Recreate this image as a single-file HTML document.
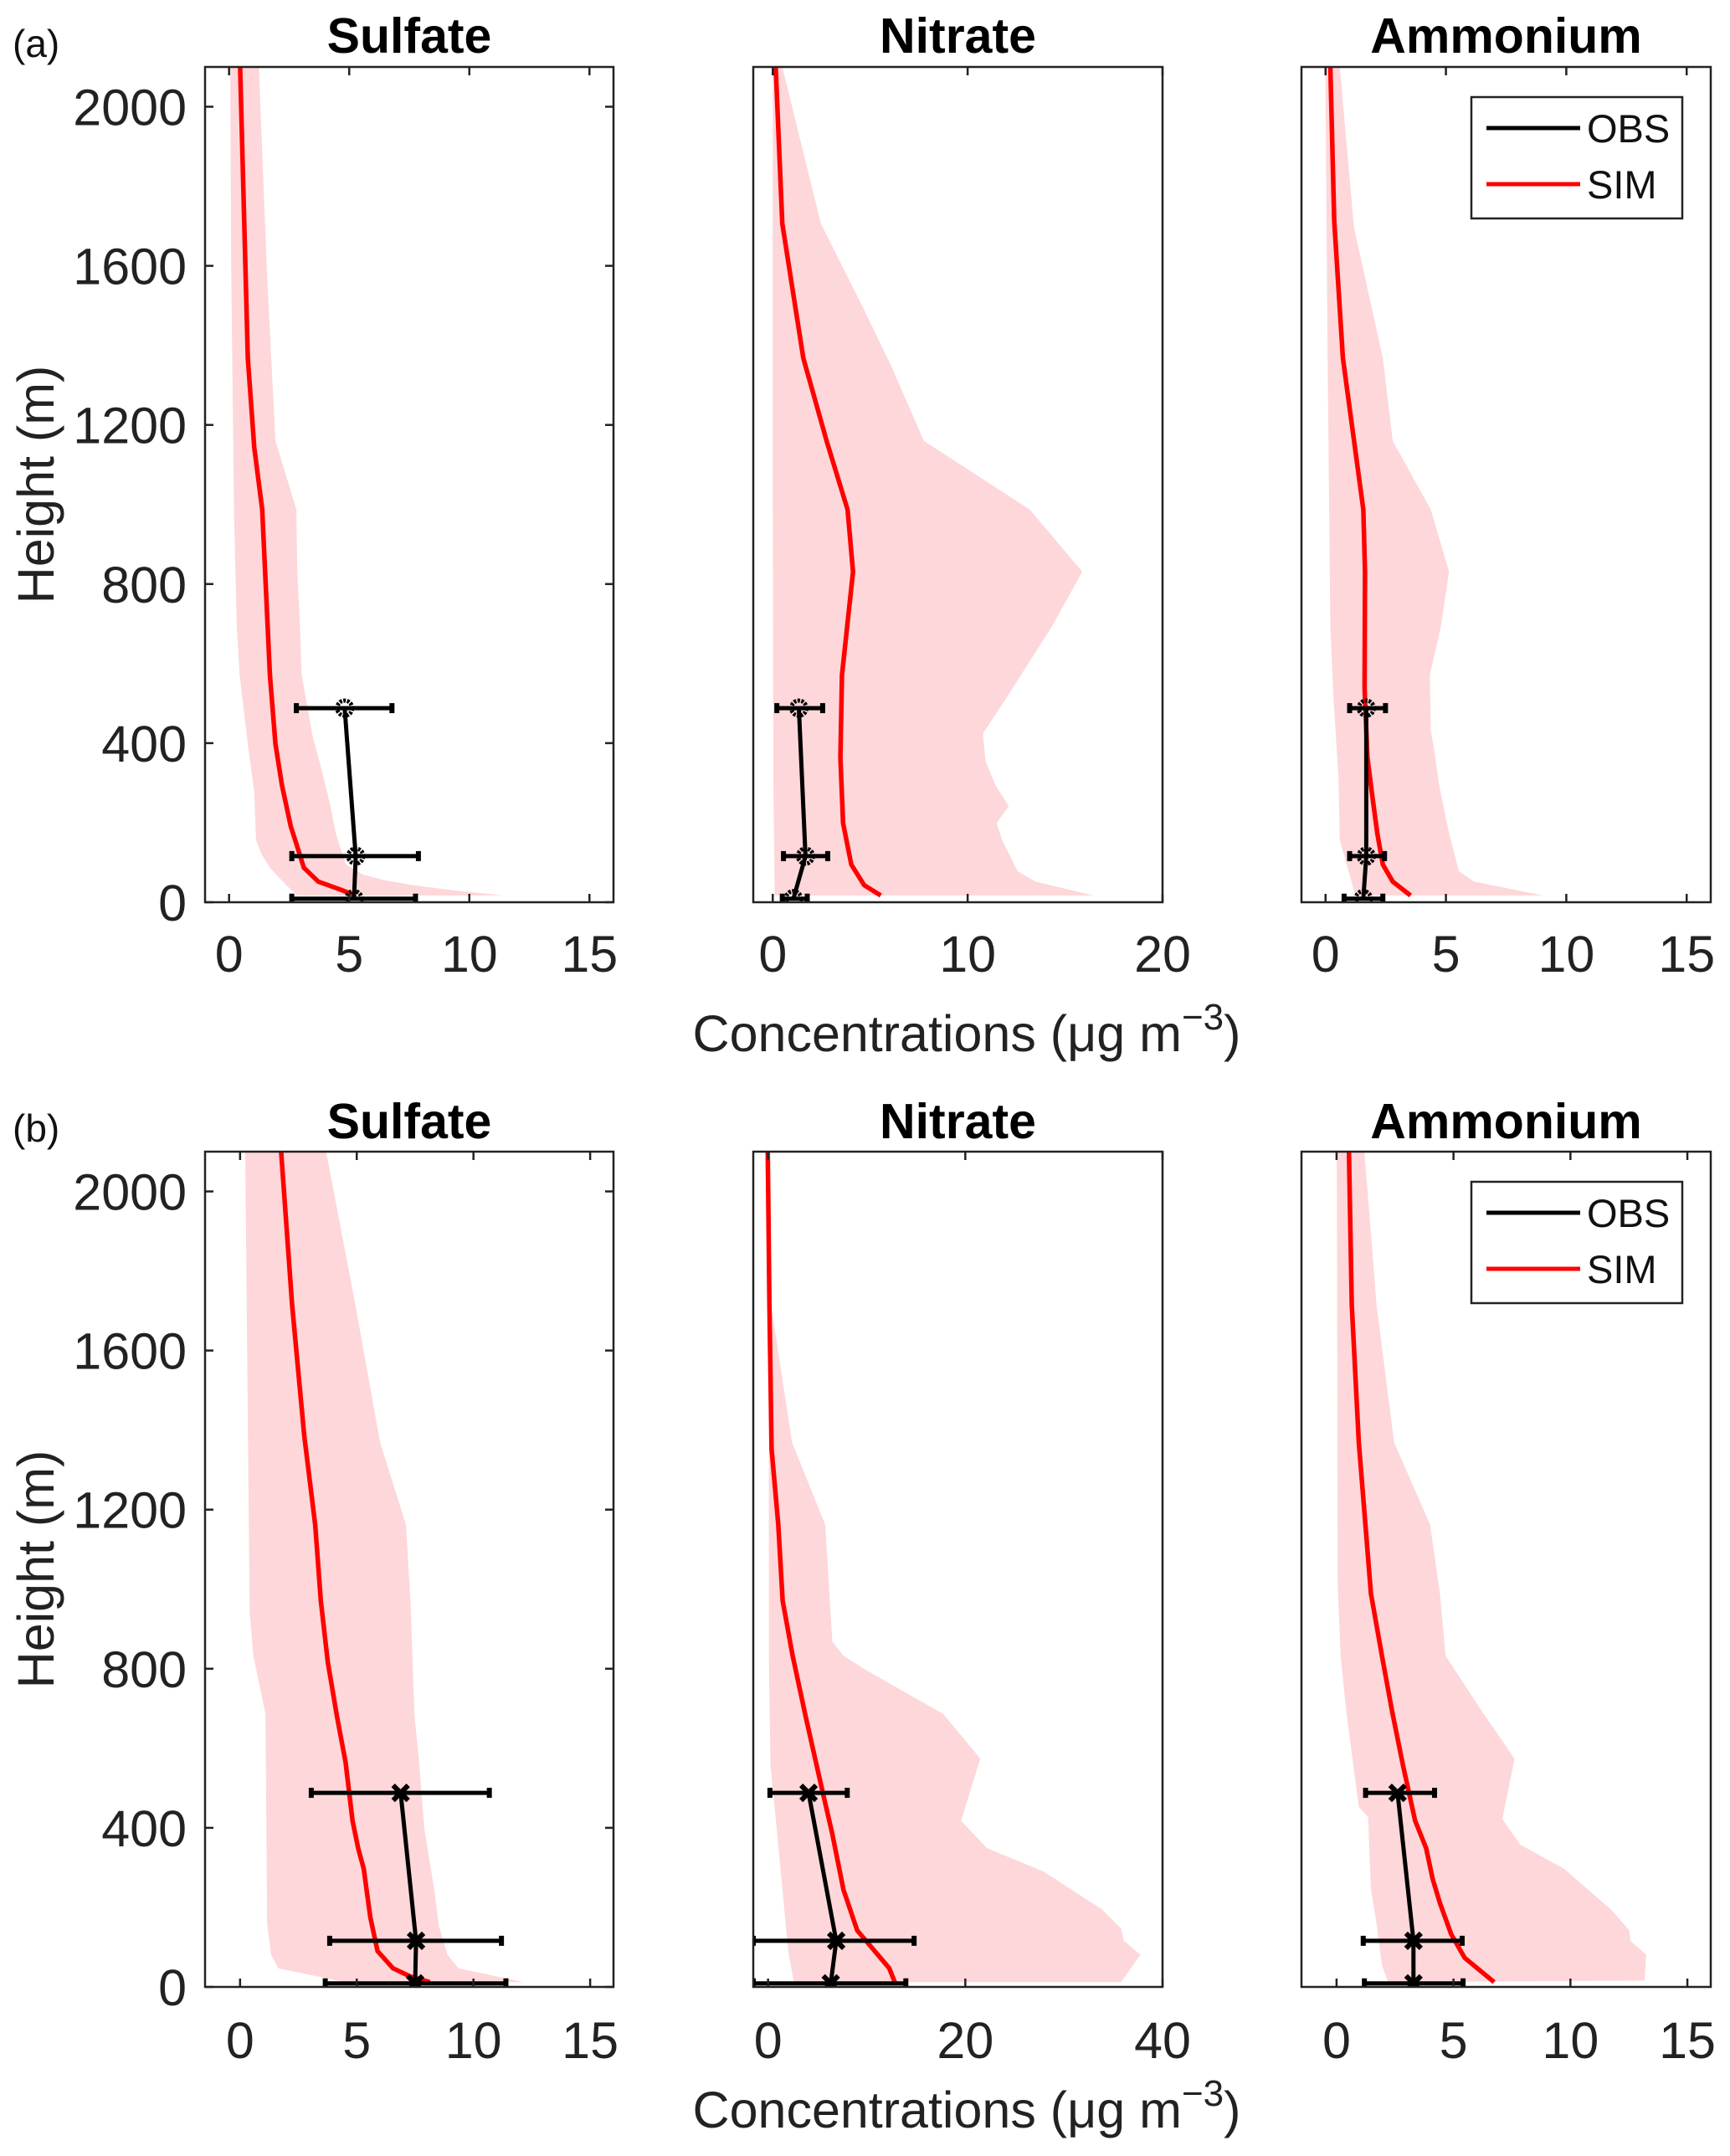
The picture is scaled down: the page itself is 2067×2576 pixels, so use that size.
<!DOCTYPE html>
<html><head><meta charset="utf-8"><style>
html,body{margin:0;padding:0;background:#fff;}
svg{display:block;font-family:"Liberation Sans",Arial,sans-serif;}
</style></head><body>
<svg id="fig" width="2067" height="2576" viewBox="0 0 2067 2576" xmlns="http://www.w3.org/2000/svg"></svg>
<script>
// ---------- DATA (concentrations in µg m-3, heights in m) ----------
const yTicks = [0, 400, 800, 1200, 1600, 2000];
const xTicksA = [[0,5,10,15],[0,10,20],[0,5,10,15]];
const xTicksB = [[0,5,10,15],[0,20,40],[0,5,10,15]];
const speciesNames = ["Sulfate","Nitrate","Ammonium"];
const obsHeights = [488, 116, 9];

// (a) Sulfate
const aSO4simH = [2100,1368,1143,987,571,398,294,190,147,87,52,31,17];
const aSO4simX = [0.46,0.78,1.05,1.38,1.70,1.93,2.20,2.57,2.80,3.11,3.71,4.67,5.25];
const aSO4loH = [2100,1576,970,693,571,398,277,156,121,87,43,17];
const aSO4loX = [0.05,0.09,0.21,0.32,0.44,0.78,1.05,1.12,1.35,1.70,2.38,2.84];
const aSO4hiH = [2100,1576,1160,987,831,693,571,416,346,242,173,95,69,55,43,29,17];
const aSO4hiX = [1.24,1.58,1.93,2.80,2.84,2.95,3.02,3.48,3.80,4.22,4.44,4.86,5.59,6.50,7.65,9.48,11.43];
const aSO4obs = [4.81,5.27,5.20];
const aSO4obsLo = [2.80,2.61,2.61];
const aSO4obsHi = [6.78,7.88,7.76];
// (a) Nitrate
const aNO3simH = [2100,1706,1368,1160,987,831,571,364,199,95,43,17];
const aNO3simX = [0.15,0.49,1.57,2.76,3.84,4.12,3.55,3.47,3.61,4.03,4.69,5.54];
const aNO3loH = [2100,1000,300,17];
const aNO3loX = [0.0,0.0,0.03,0.1];
const aNO3hiH = [2100,1706,1489,1351,1160,987,831,693,519,424,355,294,242,199,156,78,52,17];
const aNO3hiX = [0.49,2.47,4.69,6.05,7.75,13.19,15.88,14.32,12.06,10.78,10.92,11.43,12.11,11.49,11.77,12.56,13.47,16.45];
const aNO3obs = [1.34,1.68,1.06];
const aNO3obsLo = [0.21,0.55,0.49];
const aNO3obsHi = [2.56,2.82,1.77];
// (a) Ammonium
const aNH4simH = [2100,1714,1368,987,831,537,364,277,173,95,52,17];
const aNH4simX = [0.20,0.36,0.72,1.57,1.64,1.62,1.74,1.92,2.15,2.38,2.79,3.53];
const aNH4loH = [2100,1400,693,537,416,312,156,69,17];
const aNH4loX = [-0.01,0.08,0.20,0.31,0.43,0.54,0.59,1.00,1.23];
const aNH4hiH = [2100,1697,1368,1160,987,831,693,571,433,364,294,173,78,52,17];
const aNH4hiX = [0.59,1.18,2.38,2.79,4.37,5.13,4.79,4.33,4.37,4.56,4.72,5.13,5.54,6.16,9.03];
const aNH4obs = [1.69,1.69,1.57];
const aNH4obsLo = [1.00,1.00,0.77];
const aNH4obsHi = [2.49,2.45,2.38];

// (b) Sulfate
const bSO4simH = [2100,1715,1386,1162,971,816,678,565,418,349,297,176,90,47,26,12];
const bSO4simX = [1.76,2.23,2.75,3.22,3.46,3.76,4.16,4.52,4.82,5.06,5.30,5.58,5.89,6.55,7.30,8.13];
const bSO4loH = [2100,1376,944,833,686,159,81,47,12];
const bSO4loX = [0.22,0.34,0.41,0.57,1.09,1.16,1.33,1.64,4.5];
const bSO4hiH = [2100,1715,1369,1162,971,686,574,401,245,150,81,47,12];
const bSO4hiX = [3.69,4.94,6.00,7.11,7.30,7.47,7.66,7.89,8.32,8.53,8.89,9.36,12.14];
const bSO4obs = [6.88,7.54,7.50];
const bSO4obsLo = [3.05,3.84,3.65];
const bSO4obsHi = [10.68,11.20,11.39];
// (b) Nitrate
const bNO3simH = [2100,1715,1352,1162,971,833,678,505,384,245,142,47,12];
const bNO3simX = [-0.03,0.14,0.36,1.04,1.48,2.49,3.83,5.40,6.52,7.64,9.04,12.29,12.85];
const bNO3loH = [1706,833,556,384,90,12];
const bNO3loX = [0.08,0.08,0.25,0.93,2.05,2.61];
const bNO3hiH = [1706,1369,1162,868,833,799,686,574,418,349,290,195,147,116,81,12];
const bNO3hiX = [0.36,2.43,5.80,6.52,7.64,9.77,17.77,21.52,19.57,22.19,27.96,33.84,35.79,36.07,37.76,35.79];
const bNO3obs = [4.11,6.91,6.36];
const bNO3obsLo = [0.19,-1.5,-1.5];
const bNO3obsHi = [8.03,14.81,13.97];
// (b) Ammonium
const bNH4simH = [2100,1715,1369,989,833,695,557,418,349,271,211,133,73,12];
const bNH4simX = [0.53,0.65,0.95,1.47,1.94,2.37,2.84,3.36,3.83,4.11,4.42,4.90,5.48,6.74];
const bNH4loH = [2100,1012,833,695,453,427,245,159,55,12];
const bNH4loX = [0.01,0.05,0.17,0.41,0.95,1.35,1.47,1.71,1.94,2.2];
const bNH4hiH = [2100,1715,1369,1162,989,833,695,574,422,358,297,194,142,116,81,16];
const bNH4hiX = [1.19,1.71,2.46,4.00,4.42,4.66,6.19,7.61,7.09,7.85,9.73,11.74,12.52,12.56,13.24,13.17];
const bNH4obs = [2.61,3.29,3.29];
const bNH4obsLo = [1.24,1.14,1.19];
const bNH4obsHi = [4.19,5.37,5.41];

// ---------- LAYOUT ----------
const NS = "http://www.w3.org/2000/svg";
const svg = document.getElementById("fig");
function mk(tag, attrs, parent){
  const e = document.createElementNS(NS, tag);
  for (const k in attrs) e.setAttribute(k, attrs[k]);
  (parent||svg).appendChild(e);
  return e;
}
const cols = [[245,733],[900,1389],[1555,2044]];
const rows = [{top:80,bot:1078,label:"(a)",labelY:52,titleY:63,tickY:1161,xlabY:1256,xlims:[[-1,16],[-1,20],[-1,16]],ticks:xTicksA,marker:"circle",
  data:[
   {simH:aSO4simH,simX:aSO4simX,loH:aSO4loH,loX:aSO4loX,hiH:aSO4hiH,hiX:aSO4hiX,obs:aSO4obs,lo:aSO4obsLo,hi:aSO4obsHi},
   {simH:aNO3simH,simX:aNO3simX,loH:aNO3loH,loX:aNO3loX,hiH:aNO3hiH,hiX:aNO3hiX,obs:aNO3obs,lo:aNO3obsLo,hi:aNO3obsHi},
   {simH:aNH4simH,simX:aNH4simX,loH:aNH4loH,loX:aNH4loX,hiH:aNH4hiH,hiX:aNH4hiX,obs:aNH4obs,lo:aNH4obsLo,hi:aNH4obsHi}]},
 {top:1376,bot:2374,label:"(b)",labelY:1348,titleY:1360,tickY:2459,xlabY:2542,xlims:[[-1.5,16],[-1.5,40],[-1.5,16]],ticks:xTicksB,marker:"x",
  data:[
   {simH:bSO4simH,simX:bSO4simX,loH:bSO4loH,loX:bSO4loX,hiH:bSO4hiH,hiX:bSO4hiX,obs:bSO4obs,lo:bSO4obsLo,hi:bSO4obsHi},
   {simH:bNO3simH,simX:bNO3simX,loH:bNO3loH,loX:bNO3loX,hiH:bNO3hiH,hiX:bNO3hiX,obs:bNO3obs,lo:bNO3obsLo,hi:bNO3obsHi},
   {simH:bNH4simH,simX:bNH4simX,loH:bNH4loH,loX:bNH4loX,hiH:bNH4hiH,hiX:bNH4hiX,obs:bNH4obs,lo:bNH4obsLo,hi:bNH4obsHi}]}];

rows.forEach((r, ri) => {
  const panelTag = ri===0 ? "a" : "b";
  const lab = mk("text",{x:15,y:r.labelY+16,"font-size":46,fill:"#111"});
  lab.textContent = r.label;
  
  
  const yMap = h => r.bot - (h/2100)*(r.bot - r.top);
  cols.forEach((c, ci) => {
    const [x0,x1] = c, [lo,hi] = r.xlims[ci];
    const xMap = v => x0 + (v - lo)/(hi - lo)*(x1 - x0);
    const d = r.data[ci];
    const sp = speciesNames[ci].toLowerCase();
    const g = mk("g",{});
    
    
    const clipId = "clip"+ri+ci;
    const cp = mk("clipPath",{id:clipId}, g);
    mk("rect",{x:x0,y:r.top,width:x1-x0,height:r.bot-r.top}, cp);
    const pg = mk("g",{"clip-path":"url(#"+clipId+")"}, g);
    // shaded range
    let pts = [];
    d.hiH.forEach((h,i)=>pts.push(xMap(d.hiX[i]).toFixed(1)+","+yMap(h).toFixed(1)));
    for (let i=d.loH.length-1;i>=0;i--) pts.push(xMap(d.loX[i]).toFixed(1)+","+yMap(d.loH[i]).toFixed(1));
    const shade = mk("polygon",{points:pts.join(" "),fill:"#fdd7d9",stroke:"none"}, pg);
    
    
    // sim line
    const sl = mk("polyline",{points:d.simH.map((h,i)=>xMap(d.simX[i]).toFixed(1)+","+yMap(h).toFixed(1)).join(" "),fill:"none",stroke:"#ff0000","stroke-width":5.5,"stroke-linejoin":"round"}, pg);
    
    
    // obs error bars
    obsHeights.forEach((h,i)=>{
      const y = yMap(h);
      const eb = mk("g",{}, pg);
      
      
      mk("line",{x1:xMap(d.lo[i]),x2:xMap(d.hi[i]),y1:y,y2:y,stroke:"#000","stroke-width":5}, eb);
      mk("line",{x1:xMap(d.lo[i]),x2:xMap(d.lo[i]),y1:y-6,y2:y+6,stroke:"#000","stroke-width":6}, eb);
      mk("line",{x1:xMap(d.hi[i]),x2:xMap(d.hi[i]),y1:y-6,y2:y+6,stroke:"#000","stroke-width":6}, eb);
    });
    const ol = mk("polyline",{points:obsHeights.map((h,i)=>xMap(d.obs[i]).toFixed(1)+","+yMap(h).toFixed(1)).join(" "),fill:"none",stroke:"#000","stroke-width":5}, pg);
    
    
    obsHeights.forEach((h,i)=>{
      const x = xMap(d.obs[i]), y = yMap(h);
      let m;
      if (r.marker==="circle"){
        m = mk("circle",{cx:x,cy:y,r:9,fill:"none",stroke:"#000","stroke-width":5,"stroke-dasharray":"3 1.5"}, pg);
      } else {
        m = mk("path",{d:`M${x-9},${y-9}L${x+9},${y+9}M${x-9},${y+9}L${x+9},${y-9}`,stroke:"#000","stroke-width":6}, pg);
      }
      
      
    });
    // axes box
    const box = mk("rect",{x:x0,y:r.top,width:x1-x0,height:r.bot-r.top,fill:"none",stroke:"#222","stroke-width":2.5}, g);
    
    
    // x ticks
    r.ticks[ci].forEach(t=>{
      const x = xMap(t);
      mk("line",{x1:x,x2:x,y1:r.bot,y2:r.bot-10,stroke:"#222","stroke-width":2.5}, g);
      mk("line",{x1:x,x2:x,y1:r.top,y2:r.top+10,stroke:"#222","stroke-width":2.5}, g);
      const tl = mk("text",{x:x,y:r.tickY,"font-size":61,"text-anchor":"middle",fill:"#222"}, g);
      tl.textContent = t;
      
      
    });
    // title
    const ti = mk("text",{x:(x0+x1)/2,y:r.titleY,"font-size":59,"font-weight":"bold","text-anchor":"middle",fill:"#000"}, g);
    ti.textContent = speciesNames[ci];
    
    
    if (ci===0){
      yTicks.forEach(t=>{
        const y = yMap(t);
        mk("line",{x1:x0,x2:x0+10,y1:y,y2:y,stroke:"#222","stroke-width":2.5}, g);
        mk("line",{x1:x1,x2:x1-10,y1:y,y2:y,stroke:"#222","stroke-width":2.5}, g);
        const yl = mk("text",{x:223,y:y+22,"font-size":61,"text-anchor":"end",fill:"#222"}, g);
        yl.textContent = t;
        
        
      });
      const cy = (r.top + r.bot)/2;
      const yt = mk("text",{x:0,y:0,"font-size":61,"text-anchor":"middle",fill:"#222",transform:`translate(64,${cy}) rotate(-90)`});
      yt.textContent = "Height (m)";
      
      
    }
    if (ci===2){
      const lg = mk("g",{}, g);
      
      
      const ly = r.top + 36;
      mk("rect",{x:1758,y:ly,width:252,height:145,fill:"#fff",stroke:"#222","stroke-width":2.5}, lg);
      mk("line",{x1:1776,x2:1888,y1:ly+37,y2:ly+37,stroke:"#000","stroke-width":5}, lg);
      mk("line",{x1:1776,x2:1888,y1:ly+104,y2:ly+104,stroke:"#ff0000","stroke-width":5}, lg);
      const t1 = mk("text",{x:1896,y:ly+54,"font-size":47,fill:"#111"}, lg);
      t1.textContent = "OBS";
      
      
      const t2 = mk("text",{x:1896,y:ly+121,"font-size":47,fill:"#111"}, lg);
      t2.textContent = "SIM";
      
      
    }
  });
  const xl = mk("text",{x:1155,y:r.xlabY,"font-size":61,"text-anchor":"middle",fill:"#222"});
  xl.innerHTML = 'Concentrations (μg m<tspan dy="-26" font-size="44">−3</tspan><tspan dy="26">)</tspan>';
  
  
});
</script>
</body></html>
